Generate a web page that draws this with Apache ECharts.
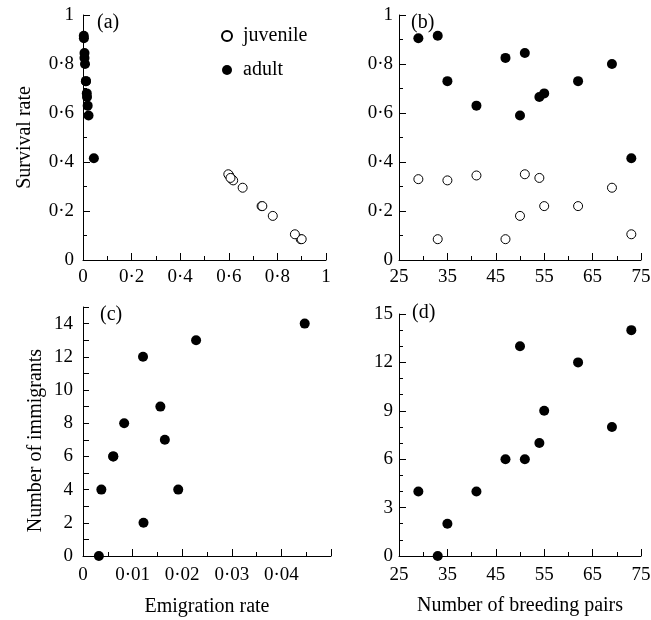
<!DOCTYPE html>
<html>
<head>
<meta charset="utf-8">
<script src="https://cdn.jsdelivr.net/npm/echarts@6/dist/echarts.min.js"></script>
<style>
  html, body { margin: 0; padding: 0; background: #fff; }
  #main { width: 651px; height: 620px; }
</style>
</head>
<body>
<div id="main"></div>
<script>
// one entry per year (colony size)
const breedingPairs = [29, 33, 35, 41, 47, 50, 51, 54, 55, 62, 69, 73];
const adultSurvival = [0.905, 0.915, 0.73, 0.63, 0.825, 0.59, 0.845, 0.665, 0.68, 0.73, 0.80, 0.415];
const juvSurvival = [0.33, 0.085, 0.325, 0.345, 0.085, 0.18, 0.35, 0.335, 0.22, 0.22, 0.295, 0.105];
const adultEmigration = [0.0037, 0.0032, 0.0122, 0.0192, 0.0061, 0.0228, 0.0061, 0.0165, 0.0156, 0.0121, 0.0083, 0.0447];
const juvEmigration = [0.613, 0.896, 0.618, 0.602, 0.9, 0.781, 0.598, 0.607, 0.735, 0.738, 0.657, 0.872];
const immigrants = [4, 0, 2, 4, 6, 13, 6, 7, 9, 12, 8, 14];
const panelLabels = ['(a)', '(b)', '(c)', '(d)'];

const FONT = 'Liberation Serif';

function zip(a, b) {
  return a.map((v, i) => [v, b[i]]);
}
function dotFmt(v) {
  return String(+v.toFixed(4)).replace('.', '\u00b7');
}

function axis(gridIndex, extra) {
  return Object.assign({
    gridIndex: gridIndex,
    type: 'value',
    axisLine: { show: true, onZero: false, lineStyle: { color: '#000', width: 1 } },
    axisTick: { show: true, inside: true, length: 7, lineStyle: { color: '#000', width: 1 } },
    minorTick: { show: true, splitNumber: 2, length: 4, lineStyle: { color: '#000', width: 1 } },
    splitLine: { show: false },
    minorSplitLine: { show: false },
    axisLabel: { color: '#000', fontFamily: FONT, fontSize: 19, formatter: dotFmt },
    nameLocation: 'middle',
    nameTextStyle: { color: '#000', fontFamily: FONT, fontSize: 20 }
  }, extra);
}

const filled = { color: '#000', opacity: 1 };
const hollow = { color: '#fff', borderColor: '#000', borderWidth: 1, opacity: 1 };

const chart = echarts.init(document.getElementById('main'), null, { renderer: 'canvas' });

const option = {
  animation: false,
  backgroundColor: '#fff',
  textStyle: { fontFamily: FONT, color: '#000' },
  grid: [
    { left: 83, top: 15, width: 243, height: 245, outerBoundsMode: 'none' },
    { left: 399, top: 15, width: 242, height: 245, outerBoundsMode: 'none' },
    { left: 83, top: 307, width: 248, height: 249, outerBoundsMode: 'none' },
    { left: 399, top: 314, width: 242, height: 242, outerBoundsMode: 'none' }
  ],
  legend: {
    data: ['juvenile', 'adult'],
    orient: 'vertical',
    left: 221,
    top: 26,
    padding: 0,
    itemWidth: 10,
    itemHeight: 10,
    itemGap: 14,
    icon: 'circle',
    textStyle: { fontFamily: FONT, fontSize: 20, color: '#000', padding: [0, 0, 0, 6] }
  },
  xAxis: [
    axis(0, { min: 0, max: 1, interval: 0.2, axisLabel: { color: '#000', fontFamily: FONT, fontSize: 19, margin: 8, formatter: dotFmt } }),
    axis(1, { min: 25, max: 75, interval: 10, axisLabel: { color: '#000', fontFamily: FONT, fontSize: 19, margin: 8 } }),
    axis(2, {
      min: 0, max: 0.05, interval: 0.01,
      name: 'Emigration rate', nameGap: 41,
      axisLabel: { color: '#000', fontFamily: FONT, fontSize: 19, margin: 10, showMaxLabel: false, formatter: dotFmt }
    }),
    axis(3, {
      min: 25, max: 75, interval: 10,
      name: 'Number of breeding pairs', nameGap: 40,
      axisLabel: { color: '#000', fontFamily: FONT, fontSize: 19, margin: 10 }
    })
  ],
  yAxis: [
    axis(0, {
      min: 0, max: 1, interval: 0.2,
      name: 'Survival rate', nameGap: 48,
      axisLabel: { color: '#000', fontFamily: FONT, fontSize: 19, margin: 9, formatter: dotFmt }
    }),
    axis(1, { min: 0, max: 1, interval: 0.2, axisLabel: { color: '#000', fontFamily: FONT, fontSize: 19, margin: 6, formatter: dotFmt } }),
    axis(2, {
      min: 0, max: 15, interval: 1,
      name: 'Number of immigrants', nameGap: 37,
      nameTextStyle: { color: '#000', fontFamily: FONT, fontSize: 20, padding: [0, 18, 0, 0] },
      axisTick: { show: true, inside: true, length: 6, lineStyle: { color: '#000', width: 1 } },
      minorTick: { show: false },
      axisLabel: {
        color: '#000', fontFamily: FONT, fontSize: 19, margin: 10,
        formatter: v => (v % 2 === 0 && v < 15 ? String(v) : '')
      }
    }),
    axis(3, {
      min: 0, max: 15, interval: 3,
      minorTick: { show: true, splitNumber: 3, length: 4, lineStyle: { color: '#000', width: 1 } },
      axisLabel: { color: '#000', fontFamily: FONT, fontSize: 19, margin: 6 }
    })
  ],
  series: [
    { name: 'juvenile', type: 'scatter', xAxisIndex: 0, yAxisIndex: 0, symbol: 'circle', symbolSize: 9, itemStyle: hollow, data: zip(juvEmigration, juvSurvival) },
    { name: 'adult', type: 'scatter', xAxisIndex: 0, yAxisIndex: 0, symbol: 'circle', symbolSize: 10, itemStyle: filled, data: zip(adultEmigration, adultSurvival) },
    { name: 'juvenile', type: 'scatter', xAxisIndex: 1, yAxisIndex: 1, symbol: 'circle', symbolSize: 9, itemStyle: hollow, data: zip(breedingPairs, juvSurvival) },
    { name: 'adult', type: 'scatter', xAxisIndex: 1, yAxisIndex: 1, symbol: 'circle', symbolSize: 10, itemStyle: filled, data: zip(breedingPairs, adultSurvival) },
    { name: 'immigrants-emig', type: 'scatter', xAxisIndex: 2, yAxisIndex: 2, symbol: 'circle', symbolSize: 10, itemStyle: filled, data: zip(adultEmigration, immigrants) },
    { name: 'immigrants-pairs', type: 'scatter', xAxisIndex: 3, yAxisIndex: 3, symbol: 'circle', symbolSize: 10, itemStyle: filled, data: zip(breedingPairs, immigrants) }
  ],
  graphic: [
    { type: 'text', left: 97, top: 13, style: { text: panelLabels[0], font: '20px "Liberation Serif"', fill: '#000' } },
    { type: 'text', left: 411, top: 13, style: { text: panelLabels[1], font: '20px "Liberation Serif"', fill: '#000' } },
    { type: 'text', left: 100, top: 305, style: { text: panelLabels[2], font: '20px "Liberation Serif"', fill: '#000' } },
    { type: 'text', left: 412, top: 303, style: { text: panelLabels[3], font: '20px "Liberation Serif"', fill: '#000' } }
  ]
};

chart.setOption(option);
</script>
</body>
</html>
